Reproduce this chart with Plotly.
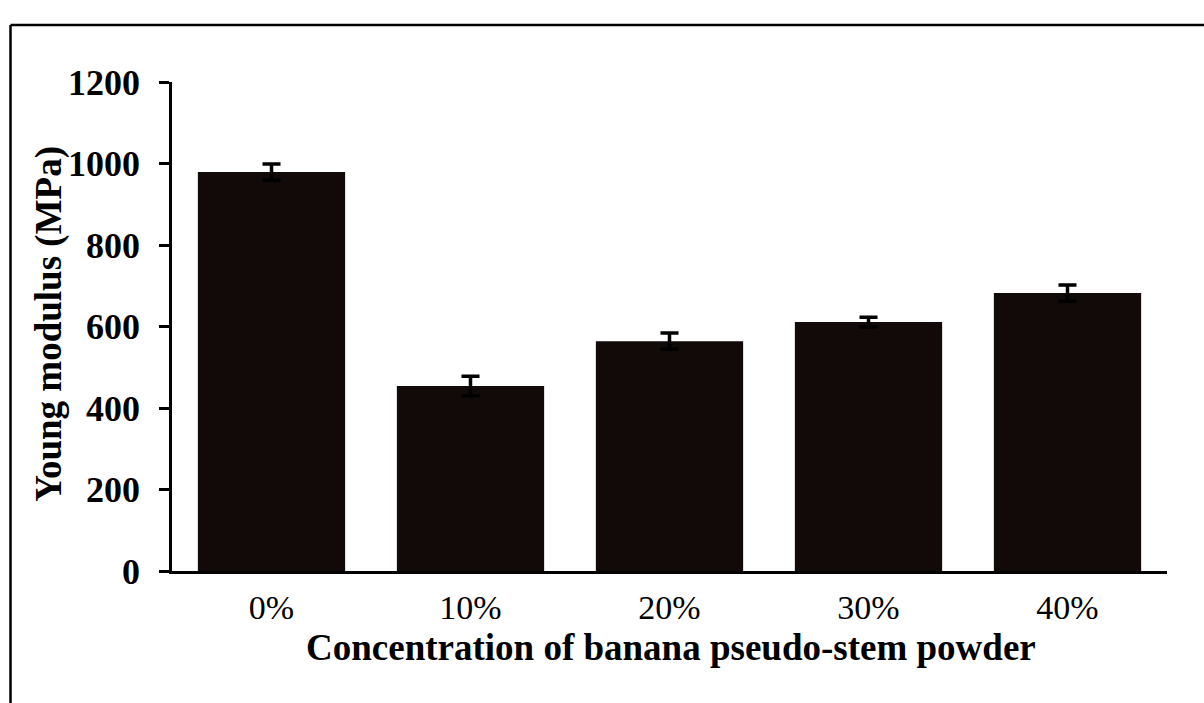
import plotly.graph_objects as go

categories = ["0%", "10%", "20%", "30%", "40%"]
modulus = [979, 454, 564, 611, 682]
errors = [20, 24, 20, 12, 20]
y_ticks = [0, 200, 400, 600, 800, 1000, 1200]

font_family = "Liberation Serif, Times New Roman, serif"

fig = go.Figure()
fig.add_trace(go.Bar(
    x=categories, y=modulus,
    marker=dict(color="#120909", line=dict(width=0)),
    width=0.74,
    error_y=dict(type="data", array=errors, visible=True, color="#000000",
                 thickness=3.5, width=9),
))

fig.update_layout(
    width=1204, height=703,
    margin=dict(l=172, r=37, t=82, b=132),
    paper_bgcolor="white", plot_bgcolor="white",
    showlegend=False,
    font=dict(family=font_family, color="black"),
    xaxis=dict(
        showline=True, linecolor="black", linewidth=2.5,
        ticks="", showgrid=False, zeroline=False,
        tickfont=dict(size=34, family=font_family),
        ticklabelstandoff=4,
    ),
    yaxis=dict(
        range=[0, 1200], tickvals=y_ticks,
        ticktext=[f"<b>{v}</b>" for v in y_ticks],
        showline=True, linecolor="black", linewidth=2.5,
        ticks="outside", ticklen=10, tickwidth=2.5, tickcolor="black",
        ticklabelstandoff=12,
        showgrid=False, zeroline=False,
        tickfont=dict(size=36, family=font_family),
    ),
    annotations=[
        dict(text="<b>Concentration of banana pseudo-stem powder</b>",
             xref="paper", yref="paper", x=0.502, y=-0.156,
             xanchor="center", yanchor="middle", showarrow=False,
             font=dict(size=37, family=font_family, color="black")),
        dict(text="<b>Young modulus (MPa)</b>",
             xref="paper", yref="paper", x=-0.124, y=0.505,
             xanchor="center", yanchor="middle", showarrow=False, textangle=-90,
             font=dict(size=37, family=font_family, color="black")),
    ],
    shapes=[
        dict(type="line", xref="paper", yref="paper",
             x0=-0.1623, x1=1.04, y0=1.1166, y1=1.1166,
             line=dict(color="black", width=2.5)),
        dict(type="line", xref="paper", yref="paper",
             x0=-0.1623, x1=-0.1623, y0=1.1166, y1=-0.28,
             line=dict(color="black", width=2.5)),
    ],
)

fig.write_html("out.html")
